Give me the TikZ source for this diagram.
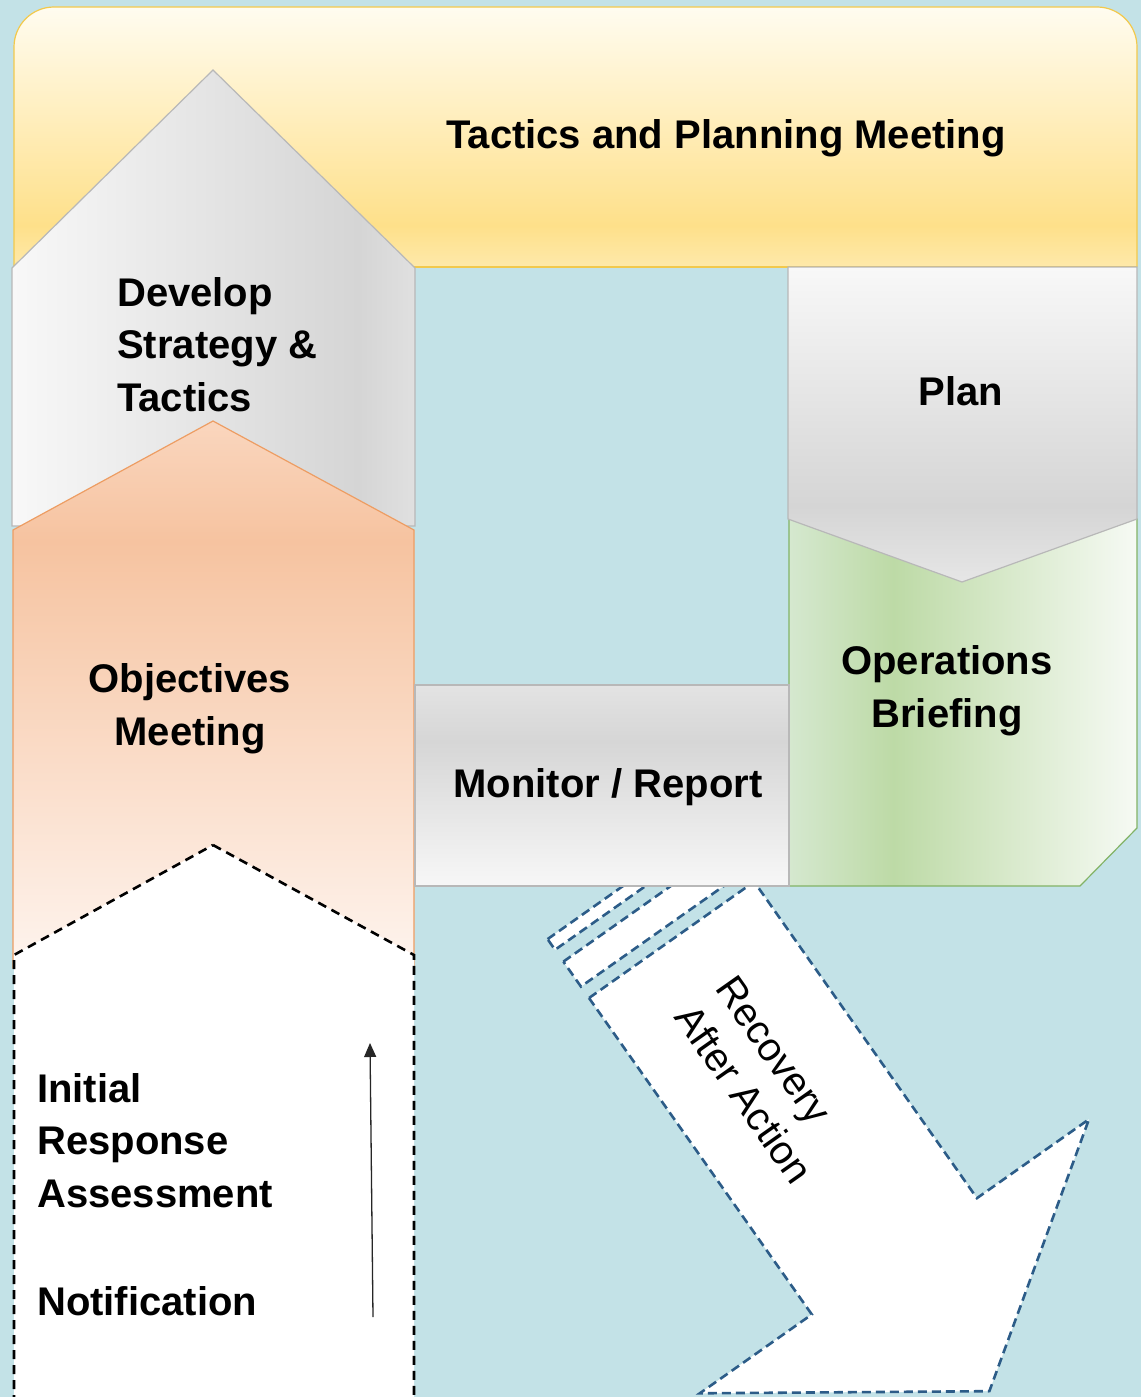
\documentclass[tikz,border=0pt]{standalone}
\usepackage{fontspec}
\setmainfont{Liberation Sans}
\usetikzlibrary{arrows.meta}
\definecolor{bgblue}{HTML}{C3E2E7}
\definecolor{yT}{HTML}{FFFCF0}
\definecolor{yQ}{HTML}{FFEFC0}
\definecolor{yM}{HTML}{FEE08A}
\definecolor{yB}{HTML}{FEE9AA}
\definecolor{gL}{HTML}{F8F8F8}
\definecolor{gD}{HTML}{D5D5D5}
\definecolor{gR}{HTML}{E0E0E0}
\definecolor{pB}{HTML}{E6E6E6}
\definecolor{oT}{HTML}{FAD6BE}
\definecolor{oM}{HTML}{F6C3A0}
\definecolor{oB}{HTML}{FEF4EE}
\definecolor{grA}{HTML}{D5E8CF}
\definecolor{grB}{HTML}{BDDAA6}
\definecolor{grC}{HTML}{F6FAF4}
\definecolor{mA}{HTML}{E3E3E3}
\definecolor{mB}{HTML}{D6D6D6}
\definecolor{mC}{HTML}{F7F7F7}
\definecolor{greyline}{HTML}{B8B8B8}
\definecolor{yelline}{HTML}{F2C94C}
\definecolor{orline}{HTML}{ED9D63}
\definecolor{grline}{HTML}{82B366}
\definecolor{recblue}{HTML}{2C5C88}
\pgfdeclareverticalshading{yelsh}{100bp}{color(0bp)=(yB); color(25bp)=(yB); color(33bp)=(yM); color(55bp)=(yQ); color(75bp)=(yT); color(100bp)=(yT)}
\pgfdeclarehorizontalshading{dvsh}{100bp}{color(0bp)=(gL); color(25bp)=(gL); color(68bp)=(gD); color(75bp)=(gR); color(100bp)=(gR)}
\pgfdeclareverticalshading{plsh}{100bp}{color(0bp)=(pB); color(25bp)=(pB); color(37bp)=(gD); color(75bp)=(gL); color(100bp)=(gL)}
\pgfdeclareverticalshading{orsh}{100bp}{color(0bp)=(oB); color(25bp)=(oB); color(64bp)=(oM); color(75bp)=(oT); color(100bp)=(oT)}
\pgfdeclarehorizontalshading{grsh}{100bp}{color(0bp)=(grA); color(25bp)=(grA); color(40bp)=(grB); color(75bp)=(grC); color(100bp)=(grC)}
\pgfdeclareverticalshading{mosh}{100bp}{color(0bp)=(mC); color(25bp)=(mC); color(61bp)=(mB); color(75bp)=(mA); color(100bp)=(mA)}
\begin{document}
\begin{tikzpicture}[x=1pt,y=-1pt,
  lbl/.style={font=\fontsize{40pt}{52.5pt}\selectfont\bfseries, inner sep=0pt, text=black},
  rtext/.style={font=\fontsize{40pt}{50pt}\selectfont, inner sep=0pt, text=black},
  shapeline/.style={line width=1.2pt},
  rec/.style={fill=white, draw=recblue, line width=2.6pt, dash pattern=on 9pt off 5pt},
  wdash/.style={fill=white, draw=black, line width=2.6pt, dash pattern=on 9pt off 6pt}]
\useasboundingbox (0,0) rectangle (1141,1397);
\clip (0,0) rectangle (1141,1397);
\fill[bgblue] (0,0) rectangle (1141,1397);

% Tactics and Planning Meeting (yellow band)
\shade[shading=yelsh, rounded corners=40pt] (14,267) -- (14,7) -- (1137,7) -- (1137,267);
\draw[yelline, shapeline, rounded corners=40pt] (14,267) -- (14,7) -- (1137,7) -- (1137,267);
\draw[yelline, shapeline] (14,267) -- (1137,267);

% Develop Strategy & Tactics
\shadedraw[shading=dvsh, draw=greyline, shapeline] (213,70) -- (415,268) -- (415,526) -- (12,526) -- (12,268) -- cycle;

% Objectives Meeting
\shadedraw[shading=orsh, draw=orline, shapeline] (213,421) -- (414,530) -- (414,968) -- (13,968) -- (13,530) -- cycle;

% Initial response (dashed)
\filldraw[wdash] (213,845) -- (414,955) -- (414,1420) -- (14,1420) -- (14,955) -- cycle;

% Operations Briefing
\shadedraw[shading=grsh, draw=grline, shapeline] (789,519) -- (1137,519) -- (1137,828) -- (1080,886) -- (789,886) -- cycle;

% Plan
\shadedraw[shading=plsh, draw=greyline, shapeline] (788,267) -- (1137,267) -- (1137,519) -- (962,582) -- (788,519) -- cycle;

% Recovery / After Action arrow
\begin{scope}[shift={(589,998)}, rotate=-54.85]
  \filldraw[rec] (-72,0) rectangle (-59,-202);
  \filldraw[rec] (-44.5,0) rectangle (-14,-202);
  \filldraw[rec] (0,0) -- (387,0) -- (387,137) -- (552,-101) -- (387,-339) -- (387,-202) -- (0,-202) -- cycle;
  \node[rtext, transform shape, align=left] (recov) at (168,-96) {Recovery\\After Action};
\end{scope}

% Monitor / Report
\shadedraw[shading=mosh, draw=greyline, shapeline] (415,685) rectangle (789,886);

% labels (base anchor of a multi-line node = baseline of its last line)
\node[lbl, anchor=base] (tpm) at (726,148) {Tactics and Planning Meeting};
\node[lbl, anchor=base west, align=left] (dst) at (117,411) {Develop\\Strategy \&\\Tactics};
\node[lbl, anchor=base] (plan) at (961,405) {Plan};
\node[lbl, anchor=base, align=center] (opb) at (947,727) {Operations\\Briefing};
\node[lbl, anchor=base, align=center] (objm) at (190,745) {Objectives\\Meeting};
\node[lbl, anchor=base] (monr) at (608,797) {Monitor / Report};
\node[lbl, anchor=base west, align=left] (ira) at (37,1207) {Initial\\Response\\Assessment};
\node[lbl, anchor=base west] (notif) at (37,1315) {Notification};

% upward arrow
\coordinate (arrS) at (373,1317);
\coordinate (arrE) at (370,1043);
\draw[-{Triangle[length=14pt,width=12pt]}, line width=1.3pt, draw=black!85] (arrS) -- (arrE);
\end{tikzpicture}
\end{document}
